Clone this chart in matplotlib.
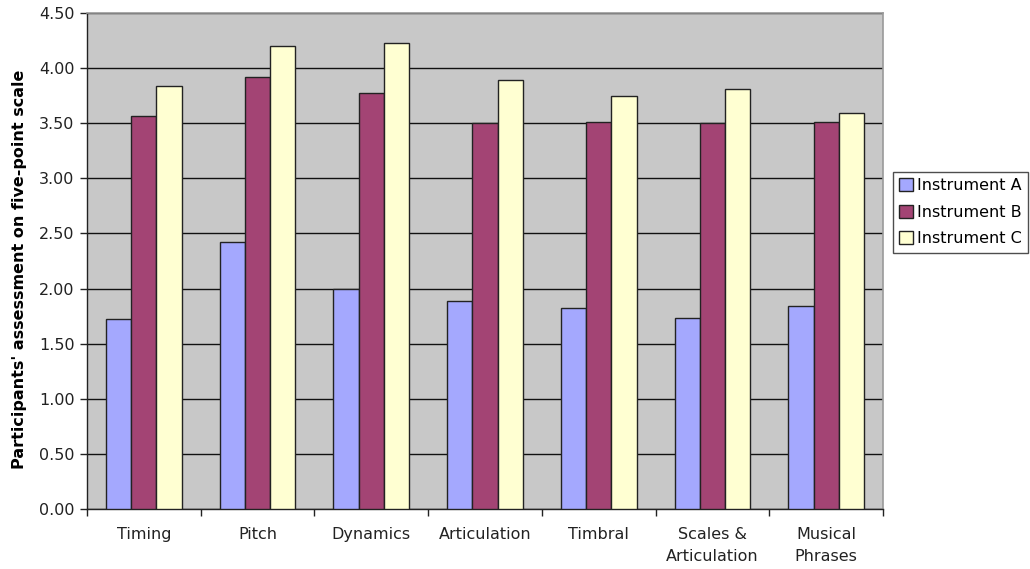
import numpy as np
import matplotlib.pyplot as plt
from matplotlib.patches import Patch
from matplotlib.ticker import MultipleLocator, FixedLocator, NullFormatter

# ---- Data -------------------------------------------------------------------
categories = ["Timing", "Pitch", "Dynamics", "Articulation", "Timbral",
              "Scales &\nArticulation", "Musical\nPhrases"]
instrument_a = [1.72, 2.42, 2.00, 1.89, 1.82, 1.73, 1.84]
instrument_b = [3.57, 3.92, 3.77, 3.50, 3.51, 3.50, 3.51]
instrument_c = [3.84, 4.20, 4.23, 3.89, 3.75, 3.81, 3.59]
series_names = ["Instrument A", "Instrument B", "Instrument C"]

colors = ["#a4a8fe", "#a34474", "#ffffd2"]

plt.rcParams["font.family"] = ["DejaVu Sans"]
plt.rcParams["font.size"] = 11.5

fig = plt.figure(figsize=(10.30, 5.69), dpi=100)
ax = fig.add_axes([87 / 1030, 1 - 509 / 569, 796 / 1030, 496 / 569])

x = np.arange(len(categories))
w = 2 / 9
series = [instrument_a, instrument_b, instrument_c]
for i, (vals, col) in enumerate(zip(series, colors)):
    ax.bar(x + (i - 1) * w, vals, width=w, color=col, edgecolor="#222222",
           linewidth=1.0, zorder=3)

ax.set_facecolor("#c8c8c8")
ax.set_xlim(-0.5, len(categories) - 0.5)
ax.set_ylim(0, 4.5)
ax.yaxis.set_major_locator(MultipleLocator(0.5))
ax.yaxis.set_major_formatter(plt.FuncFormatter(lambda v, _: f"{v:.2f}"))
ax.grid(axis="y", color="#111111", linewidth=1.0, zorder=1)

# category labels centred, tick marks on the category boundaries
ax.set_xticks(x)
ax.set_xticklabels(categories, color="#222222", linespacing=1.6)
ax.tick_params(axis="x", length=0, pad=13)
ax.xaxis.set_minor_locator(FixedLocator(np.arange(-0.5, len(categories), 1.0)))
ax.xaxis.set_minor_formatter(NullFormatter())
ax.tick_params(axis="x", which="minor", length=5, width=1, color="#222222")
ax.tick_params(axis="y", length=5, width=1, color="#222222", labelcolor="#222222", pad=4)

for side in ["left", "bottom"]:
    ax.spines[side].set_color("#222222")
    ax.spines[side].set_linewidth(1.0)
for side in ["top", "right"]:
    ax.spines[side].set_color("#9a9a9a")
    ax.spines[side].set_linewidth(1.2)

ax.set_ylabel("Participants' assessment on five-point scale", fontweight="bold",
              fontsize=11.5)
ax.yaxis.set_label_coords(-0.075, 0.484)

handles = [Patch(facecolor=c, edgecolor="#222222", label=n)
           for c, n in zip(colors, series_names)]
leg = fig.legend(handles=handles, loc="upper left",
                 bbox_to_anchor=(893 / 1030, 1 - 172 / 569),
                 frameon=True, fancybox=False, edgecolor="#222222",
                 handlelength=0.85, handleheight=0.85, handletextpad=0.25,
                 borderpad=0.4, labelspacing=0.72, borderaxespad=0,
                 fontsize=11.5)
leg.get_frame().set_linewidth(1.0)

fig.savefig("out.png", dpi=100, facecolor="white")
